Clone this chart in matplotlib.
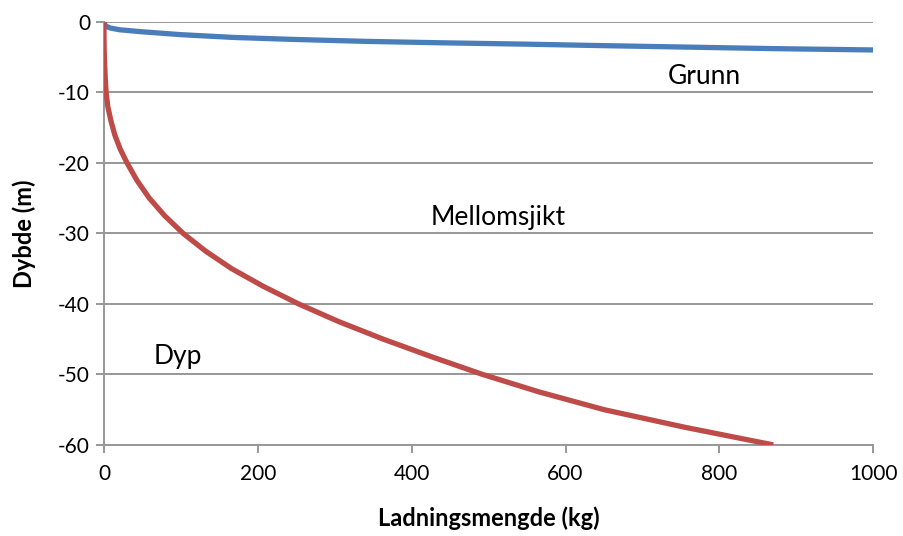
import matplotlib
matplotlib.use("Agg")
import matplotlib.pyplot as plt

# Data
grunn_x = [0, 1, 3, 8, 20, 47, 100, 170, 242, 340, 437, 550, 645, 750, 870, 1000]
grunn_y = [0, -0.4, -0.6, -0.85, -1.1, -1.37, -1.8, -2.2, -2.46, -2.75, -2.95,
           -3.15, -3.35, -3.55, -3.78, -3.97]

dyp_x = [0, 0.05, 0.3, 0.9, 1.7, 2.8, 5, 9, 14, 21, 30, 43, 59, 79, 103, 132,
         166, 207, 253, 305, 363, 426, 492, 566, 650, 755, 870]
dyp_y = [0, -2, -4, -6, -8, -10, -12, -14, -16, -18, -20, -22.5, -25, -27.5,
         -30, -32.5, -35, -37.5, -40, -42.5, -45, -47.5, -50, -52.5, -55,
         -57.5, -60]

x_ticks = [0, 200, 400, 600, 800, 1000]
y_ticks = [0, -10, -20, -30, -40, -50, -60]
y_tick_labels = ["0", "-10", "-20", "-30", "-40", "-50", "-60"]

zone_labels = ["Grunn", "Mellomsjikt", "Dyp"]
zone_x = [781, 512, 96]
zone_y = [-7.8, -27.8, -47.4]

plt.rcParams['font.family'] = ['Lato', 'DejaVu Sans']

fig = plt.figure(figsize=(9.04, 5.36), dpi=100)
ax = fig.add_axes([0.115, 0.170, 0.851, 0.789])

grid_c = '#979797'
for yt in y_ticks:
    ax.axhline(yt, color=grid_c, lw=1.4, zorder=1)

ax.plot(grunn_x, grunn_y, color='#4a7ebb', lw=3.8, solid_capstyle='butt',
        solid_joinstyle='round', zorder=3)
ax.plot(dyp_x, dyp_y, color='#be4b48', lw=3.8, solid_capstyle='butt',
        solid_joinstyle='round', zorder=4)

for t, xx, yy in zip(zone_labels, zone_x, zone_y):
    ax.text(xx, yy, t, ha='center', va='center', fontsize=19, color='black')

ax.set_xlim(0, 1000)
ax.set_ylim(-60, 0)
ax.set_xticks(x_ticks)
ax.set_xticklabels([str(v) for v in x_ticks])
ax.set_yticks(y_ticks)
ax.set_yticklabels(y_tick_labels)

for s in ['top', 'right']:
    ax.spines[s].set_visible(False)
for s in ['left', 'bottom']:
    ax.spines[s].set_color(grid_c)
    ax.spines[s].set_linewidth(1.4)

ax.tick_params(axis='both', colors=grid_c, labelcolor='black', labelsize=15,
               width=1.4, length=6, direction='out')
ax.tick_params(axis='x', pad=8)
ax.tick_params(axis='y', pad=4)

ax.set_xlabel('Ladningsmengde (kg)', fontsize=17, fontweight='bold', labelpad=16)
ax.set_ylabel('Dybde (m)', fontsize=17, fontweight='bold', labelpad=16)

fig.savefig('out.png', dpi=100, facecolor='white')
